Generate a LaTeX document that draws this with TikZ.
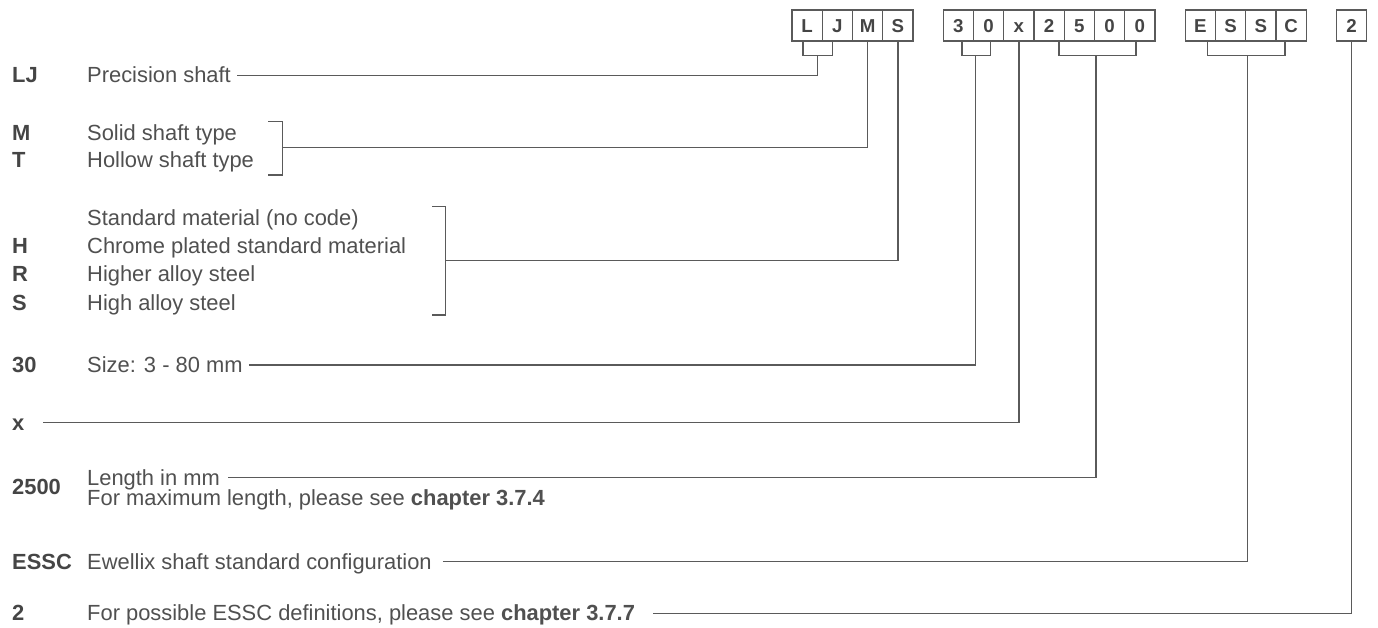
\documentclass[tikz,border=0pt]{standalone}
\usepackage{fontspec}
\setmainfont{Liberation Sans}
\usetikzlibrary{positioning}
\definecolor{CodeGray}{HTML}{454545}
\definecolor{TextGray}{HTML}{505050}
\definecolor{LineGray}{HTML}{5A5A5A}

\begin{document}
\begin{tikzpicture}[x=1pt,y=-1pt,
    cell/.style={draw=LineGray,line width=1.2pt,minimum width=30.25pt,
      minimum height=31pt,inner sep=0pt,outer sep=0pt,text height=13.4pt,
      text depth=0pt,text=CodeGray,font=\fontsize{18.7}{22}\selectfont\bfseries},
    code/.style={anchor=base west,inner sep=0pt,text=CodeGray,
      font=\fontsize{21.9}{26}\selectfont\bfseries},
    desc/.style={anchor=base west,inner sep=0pt,text=TextGray,
      font=\fontsize{21.9}{26}\selectfont},
    lead/.style={draw=LineGray,line width=1.3pt}
  ]
    \useasboundingbox (0,0) rectangle (1378,627);

    % designation boxes
    \node[cell] (cL) at (807.1,25.5) {L};
    \node[cell,right=0pt of cL] (cJ) {J};
    \node[cell,right=0pt of cJ] (cM) {M};
    \node[cell,right=0pt of cM] (cS) {S};
    \node[cell,right=30.25pt of cS] (c3) {3};
    \node[cell,right=0pt of c3] (c0) {0};
    \node[cell,right=0pt of c0] (cx) {x};
    \node[cell,right=0pt of cx] (c2) {2};
    \node[cell,right=0pt of c2] (c5) {5};
    \node[cell,right=0pt of c5] (c0a) {0};
    \node[cell,right=0pt of c0a] (c0b) {0};
    \node[cell,right=30.25pt of c0b] (cE) {E};
    \node[cell,right=0pt of cE] (cS1) {S};
    \node[cell,right=0pt of cS1] (cS2) {S};
    \node[cell,right=0pt of cS2] (cC) {C};
    \node[cell,right=30.25pt of cC] (cTwo) {2};

    % codes and meanings
    \node[code] (ljc) at (12,82.5) {LJ};
    \node[desc] (ljd) at (87,82.5) {Precision shaft};
    \node[code] (mc) at (12,140) {M};
    \node[desc] (md) at (87,140) {Solid shaft type};
    \node[code] (tc) at (12,167.5) {T};
    \node[desc] (td) at (87,167.5) {Hollow shaft type};
    \node[desc] (std) at (87,225.7) {Standard material (no code)};
    \node[code] (hc) at (12,253.3) {H};
    \node[desc] (hd) at (87,253.3) {Chrome plated standard material};
    \node[code] (rc) at (12,281.5) {R};
    \node[desc] (rd) at (87,281.5) {Higher alloy steel};
    \node[code] (sc) at (12,310) {S};
    \node[desc] (sd) at (87,310) {High alloy steel};
    \node[code] (szc) at (12,372.3) {30};
    \node[desc] (szd) at (87,372.3) {Size: 3 - 80 mm};
    \node[code] (xc) at (12,430) {x};
    \node[code] (lnc) at (12,494) {2500};
    \node[desc] (lnd) at (87,485) {Length in mm};
    \node[desc] (mxd) at (87,505) {For maximum length, please see \textbf{chapter 3.7.4}};
    \node[code] (esc) at (12,569) {ESSC};
    \node[desc] (esd) at (87,569) {Ewellix shaft standard configuration};
    \node[code] (nc) at (12,620.5) {2};
    \node[desc] (nd) at (87,620.5) {For possible ESSC definitions, please see \textbf{chapter 3.7.7}};

    % bracket joints
    \coordinate (ljb) at (817.3,55.7);
    \coordinate (mtb) at (282.7,147.3);
    \coordinate (matb) at (445.7,260.7);
    \coordinate (szb) at (975.3,55.7);
    \coordinate (xst) at (43,422.7);
    \coordinate (lnb) at (1096,55.7);
    \coordinate (esb) at (1247.3,55.7);

    % leaders
    \draw[lead] ([xshift=-4pt]cL.south) |- (ljb) -| ([xshift=-5pt]cJ.south);
    \draw[lead] ([shift={(6pt,7.3pt)}]ljd.base east) -| (ljb);
    \draw[lead] (268,121.7) -- (282.7,121.7) -- (282.7,175) -- (268,175);
    \draw[lead] (mtb) -| (cM.south);
    \draw[lead] (432,206.7) -- (445.7,206.7) -- (445.7,315) -- (432,315);
    \draw[lead] (matb) -| (cS.south);
    \draw[lead] ([xshift=3.5pt]c3.south) |- (szb) -| ([xshift=2pt]c0.south);
    \draw[lead] ([shift={(6pt,7.3pt)}]szd.base east) -| (szb);
    \draw[lead] (xst) -| (cx.south);
    \draw[lead] ([xshift=10pt]c2.south) |- (lnb) -| ([xshift=-4pt]c0b.south);
    \draw[lead] ([shift={(8pt,7.3pt)}]lnd.base east) -| (lnb);
    \draw[lead] ([xshift=7pt]cE.south) |- (esb) -| ([xshift=-6pt]cC.south);
    \draw[lead] ([shift={(11pt,7.3pt)}]esd.base east) -| (esb);
    \draw[lead] ([shift={(18pt,7.3pt)}]nd.base east) -| (cTwo.south);
  \end{tikzpicture}
\end{document}
